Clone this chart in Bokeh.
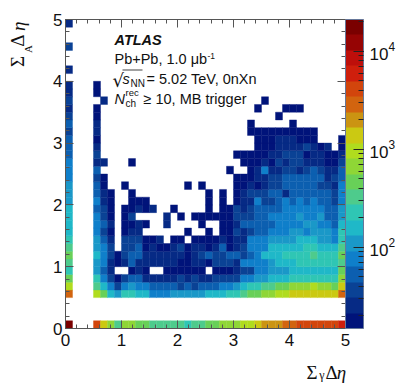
from math import pi
from bokeh.embed import file_html
from bokeh.resources import INLINE
from bokeh.plotting import figure
from bokeh.models import (ColumnDataSource, LogColorMapper, ColorBar, LogTicker, FixedTicker,
                          LinearAxis, Label, CustomJSTickFormatter, LogTickFormatter)
from bokeh.transform import transform

# colour bands, darkest blue (1) up to maroon (20)
PALETTE = ["#00137a", "#062a85", "#0a4295", "#0c5fb0", "#0f7fca", "#1a98c8", "#1fb8c8", "#2fc6b4",
           "#4ecb8c", "#68d058", "#8fd636", "#b0dc1e", "#cbc912", "#cb9412", "#d2640f", "#d2450c",
           "#cf1f0c", "#be0f0b", "#960404", "#7a0000"]
# counts: one value per colour band
BAND_COUNTS = [18, 26, 37, 53, 76, 110, 157, 225, 322, 463, 664, 952, 1366, 1960, 2812, 4034,
               5788, 8304, 11900, 17090]
Z_LOW = 14.9
Z_HIGH = 21200
X_TICKS = [0, 1, 2, 3, 4, 5]
Y_TICKS = [0, 1, 2, 3, 4, 5]
N_BINS = 40
BIN = 0.125

# band of each cell (0 = empty), one list per sum-A-delta-eta bin, from bottom to top
ROW_00 = [20,0,0,0,16,13,11,9,11,11,10,10,9,9,9,9,9,8,9,9,10,10,11,11,11,12,12,13,14,14,14,15,15,16,16,16,16,16,16,17]
ROW_01 = [0]*40
ROW_02 = [0]*40
ROW_03 = [0]*40
ROW_04 = [15,0,0,0,12,10,7,6,8,8,7,7,5,5,5,6,6,6,6,6,7,7,7,8,8,9,10,10,11,11,12,12,13,13,13,13,13,13,13,15]
ROW_05 = [12,0,0,0,9,7,5,3,5,6,5,5,4,4,4,4,3,4,3,4,4,4,5,5,6,7,8,8,9,9,10,10,11,11,11,12,11,11,10,13]
ROW_06 = [10,0,0,0,8,5,3,1,3,4,4,2,2,2,2,2,3,2,3,2,2,3,3,3,3,5,5,6,6,7,7,7,8,8,8,8,8,8,8,11]
ROW_07 = [8,0,0,0,6,4,2,0,0,1,2,1,0,0,1,1,1,1,1,1,0,1,1,1,2,3,3,5,5,6,6,6,7,7,7,7,7,7,7,10]
ROW_08 = [9,0,0,0,6,5,2,1,2,4,2,2,2,2,2,2,1,1,2,2,1,3,3,3,2,5,5,5,5,6,7,7,7,8,8,8,8,8,8,9]
ROW_09 = [10,0,0,0,7,5,3,1,3,4,4,2,2,2,2,2,2,1,2,3,4,3,3,4,4,3,4,5,7,7,7,8,8,8,8,9,8,8,8,10]
ROW_10 = [9,0,0,0,6,5,3,0,3,3,4,1,2,1,1,2,3,1,2,2,1,2,4,1,2,3,5,5,5,7,7,7,7,7,8,8,7,7,7,9]
ROW_11 = [8,0,0,0,6,4,2,0,3,3,3,1,1,2,0,1,1,0,1,1,1,1,2,1,2,2,5,5,5,6,6,6,6,7,7,7,6,6,5,8]
ROW_12 = [7,0,0,0,5,3,1,0,1,2,2,0,0,0,0,0,0,1,0,0,1,0,1,1,3,2,3,4,4,5,5,5,6,6,5,6,6,6,5,8]
ROW_13 = [7,0,0,0,5,4,2,0,1,1,2,1,0,0,2,0,0,0,0,1,0,0,1,1,2,4,4,4,4,4,5,5,5,5,6,6,5,5,4,7]
ROW_14 = [7,0,0,0,5,3,1,0,1,3,0,0,0,0,2,0,1,0,1,1,1,1,1,1,3,3,3,4,4,5,5,5,5,6,5,5,6,4,4,6]
ROW_15 = [7,0,0,0,4,3,1,0,1,1,2,1,2,0,0,1,0,0,0,0,1,0,1,1,3,2,3,4,4,4,4,5,5,5,5,5,5,4,4,6]
ROW_16 = [6,0,0,0,5,2,1,0,0,1,1,1,0,0,0,0,0,0,0,0,1,0,1,0,1,2,2,5,3,3,4,5,4,5,4,5,4,4,3,5]
ROW_17 = [6,0,0,0,4,2,1,0,0,1,0,0,0,0,0,0,0,0,0,0,1,0,1,0,1,2,3,3,3,4,4,2,4,4,4,4,4,4,3,5]
ROW_18 = [6,0,0,0,4,1,0,0,1,0,0,0,0,0,0,0,0,1,0,1,0,0,0,0,1,1,2,1,2,3,3,4,4,4,4,4,3,3,2,5]
ROW_19 = [5,0,0,0,3,1,0,0,0,0,0,0,0,0,0,0,0,0,0,0,0,0,0,0,1,1,1,2,2,3,3,4,4,4,4,4,4,2,3,4]
ROW_20 = [5,0,0,0,4,0,0,0,0,0,0,0,0,0,0,0,0,0,0,0,0,0,0,1,0,0,1,2,5,2,2,3,3,2,3,4,3,2,2,4]
ROW_21 = [5,0,0,0,2,2,0,0,0,1,0,0,0,0,0,0,0,0,0,0,0,0,0,0,0,1,1,1,2,1,3,2,3,3,2,2,2,1,1,3]
ROW_22 = [4,0,0,0,3,0,0,0,0,0,0,0,0,0,0,0,0,0,0,0,0,0,0,0,1,1,1,1,1,2,2,3,3,3,1,2,2,1,1,2]
ROW_23 = [4,0,0,0,2,0,0,0,0,0,0,0,0,0,0,0,0,0,0,0,0,0,0,0,0,0,0,1,1,1,2,2,2,2,3,2,1,2,0,1]
ROW_24 = [4,0,0,0,1,0,0,0,0,0,0,0,0,0,0,0,0,0,0,0,0,0,0,0,0,0,0,1,1,1,2,2,2,1,1,1,0,0,0,1]
ROW_25 = [3,0,0,0,2,0,0,0,0,0,0,0,0,0,0,0,0,0,0,0,0,0,0,0,0,0,1,1,1,1,1,1,1,1,1,1,0,0,0,0]
ROW_26 = [4,0,0,0,2,0,0,0,0,0,0,0,0,0,0,0,0,0,0,0,0,0,0,0,0,0,1,0,0,0,0,0,1,0,0,0,0,0,0,0]
ROW_27 = [3,0,0,0,1,0,0,0,0,0,0,0,0,0,0,0,0,0,0,0,0,0,0,0,0,0,0,0,0,0,1,0,0,0,0,0,0,0,0,0]
ROW_28 = [2,0,0,0,1,0,0,0,0,0,0,0,0,0,0,0,0,0,0,0,0,0,0,0,0,0,0,1,0,0,0,1,1,1,0,0,0,0,0,0]
ROW_29 = [3,0,0,0,0,2,0,0,0,0,0,0,0,0,0,0,0,0,0,0,0,0,0,0,0,0,0,0,1,0,0,0,0,0,0,0,0,0,0,0]
ROW_30 = [2,0,0,0,1,0,0,0,0,0,0,0,0,0,0,0,0,0,0,0,0,0,0,0,0,0,0,0,0,0,0,0,0,0,0,0,0,0,0,0]
ROW_31 = [2,0,0,0,1,0,0,0,0,0,0,0,0,0,0,0,0,0,0,0,0,0,0,0,0,0,0,0,0,0,0,0,0,0,0,0,0,0,0,0]
ROW_32 = [0]*40
ROW_33 = [2]+[0]*39
ROW_34 = [0]*40
ROW_35 = [0]*40
ROW_36 = [3]+[0]*39
ROW_37 = [0]*40
ROW_38 = [0]*40
ROW_39 = [2]+[0]*39
ROWS = [ROW_00, ROW_01, ROW_02, ROW_03, ROW_04, ROW_05, ROW_06, ROW_07, ROW_08, ROW_09,
        ROW_10, ROW_11, ROW_12, ROW_13, ROW_14, ROW_15, ROW_16, ROW_17, ROW_18, ROW_19,
        ROW_20, ROW_21, ROW_22, ROW_23, ROW_24, ROW_25, ROW_26, ROW_27, ROW_28, ROW_29,
        ROW_30, ROW_31, ROW_32, ROW_33, ROW_34, ROW_35, ROW_36, ROW_37, ROW_38, ROW_39]

left, right, bottom, top, count = [], [], [], [], []
for j, row in enumerate(ROWS):
    for i, band in enumerate(row):
        if band:
            left.append(i * BIN); right.append((i + 1) * BIN)
            bottom.append(j * BIN); top.append((j + 1) * BIN)
            count.append(BAND_COUNTS[band - 1])
source = ColumnDataSource(dict(left=left, right=right, bottom=bottom, top=top, count=count))
mapper = LogColorMapper(palette=PALETTE, low=Z_LOW, high=Z_HIGH)

p = figure(frame_width=280, frame_height=309, x_range=(0, 5), y_range=(0, 5),
           output_backend="svg", toolbar_location=None, min_border_left=73, min_border_top=19,
           min_border_bottom=50, min_border_right=0, x_axis_location=None, y_axis_location=None,
           margin=(0, 0, 0, -8))
p.grid.visible = False
p.outline_line_color = None
p.background_fill_color = "white"
p.quad(left="left", right="right", bottom="bottom", top="top", source=source,
       fill_color=transform("count", mapper), line_color=transform("count", mapper), line_width=0.4)

AXIS_COLOR = "#555555"
TICK_FONT = "Liberation Sans"
blank = CustomJSTickFormatter(code="return ''")
for side, ticks in (("below", X_TICKS), ("left", Y_TICKS), ("above", X_TICKS), ("right", Y_TICKS)):
    ax = LinearAxis(ticker=FixedTicker(ticks=ticks, minor_ticks=[k * 0.2 for k in range(26)]))
    ax.axis_line_color = AXIS_COLOR
    ax.major_tick_line_color = AXIS_COLOR
    ax.minor_tick_line_color = AXIS_COLOR
    ax.major_tick_in = 8
    ax.major_tick_out = 0
    ax.minor_tick_in = 4
    ax.minor_tick_out = 0
    ax.major_label_text_font = TICK_FONT
    ax.major_label_text_font_size = "17px"
    ax.major_label_text_color = "#111111"
    ax.major_label_standoff = 5 if side == "below" else 3
    if side in ("above", "right"):
        ax.formatter = blank
        ax.major_label_standoff = 0
        ax.major_label_text_font_size = "1px"
    p.add_layout(ax, side)

def dx(px):
    return (px - 65) / 56.0
def dy(py):
    return (328 - py) / 61.8

SANS = "Liberation Sans"
SERIF = "Liberation Serif"

# axis titles: label-only axes stacked beside the frame
def title_axis(side, ticks, labels, size, standoff, vertical=False, style="normal"):
    ax = LinearAxis(ticker=FixedTicker(ticks=ticks),
                    formatter=CustomJSTickFormatter(args=dict(labels=labels), code="return labels[index]"))
    ax.axis_line_color = None
    ax.major_tick_line_color = None
    ax.minor_tick_line_color = None
    ax.major_tick_in = 0
    ax.major_tick_out = 0
    ax.major_label_standoff = standoff
    ax.major_label_text_font = SERIF
    ax.major_label_text_font_size = f"{size}px"
    ax.major_label_text_font_style = style
    ax.major_label_text_color = "#111111"
    if vertical:
        ax.major_label_orientation = pi / 2
    p.add_layout(ax, side)

title_axis("below", [dx(321.5)], ["\u03b3"], 12, 19)
title_axis("below", [dx(311.5), dx(331)], ["\u03a3", "\u0394"], 19, -23)
title_axis("below", [dx(341)], ["\u03b7"], 19, -24, style="italic")
title_axis("left", [dy(34), dy(55.5)], ["\u0394", "\u03a3"], 19, 33, vertical=True)
title_axis("left", [dy(21)], ["\u03b7"], 19, -25, vertical=True, style="italic")
title_axis("left", [dy(44.5)], ["A"], 11, -34, vertical=True)

cb = ColorBar(color_mapper=mapper, ticker=LogTicker(num_minor_ticks=10), formatter=LogTickFormatter(),
              width=18, height=309, padding=0, margin=3, location=(0, 0),
              major_tick_line_color="#222222", minor_tick_line_color="#222222",
              major_tick_in=10, minor_tick_in=5, major_tick_out=0, minor_tick_out=0,
              bar_line_color="#667799", major_label_text_font=TICK_FONT,
              major_label_text_font_size="17px", major_label_text_color="#111111",
              label_standoff=6)
p.add_layout(cb, "right")

def put(px, py, text, size=14.5, font=SANS, style="normal"):
    p.add_layout(Label(x=dx(px), y=dy(py), text=text, text_font=font, text_font_size=f"{size}px",
                       text_font_style=style, text_color="#111111", text_baseline="alphabetic",
                       level="overlay"))

put(114, 39, "ATLAS", 14.5, SANS, "bold italic")
put(114, 58, "Pb+Pb, 1.0 \u03bcb")
put(207, 55, "-1", 8.5)
put(112, 80, "\u221a", 18, "DejaVu Sans")
put(122, 78, "s", 14.5, SANS, "italic")
put(130, 83, "NN", 10)
put(146, 78, "= 5.02 TeV, 0nXn")
put(114, 98, "N", 14.5, SANS, "italic")
put(125, 92, "rec", 9.5)
put(125, 103, "ch", 10)
put(143, 98, "\u2265 10, MB trigger")
p.line(x=[dx(122), dx(142)], y=[dy(69.5), dy(69.5)], line_color="#111111", line_width=0.8)

open("out.html", "w").write(file_html(p, INLINE))
